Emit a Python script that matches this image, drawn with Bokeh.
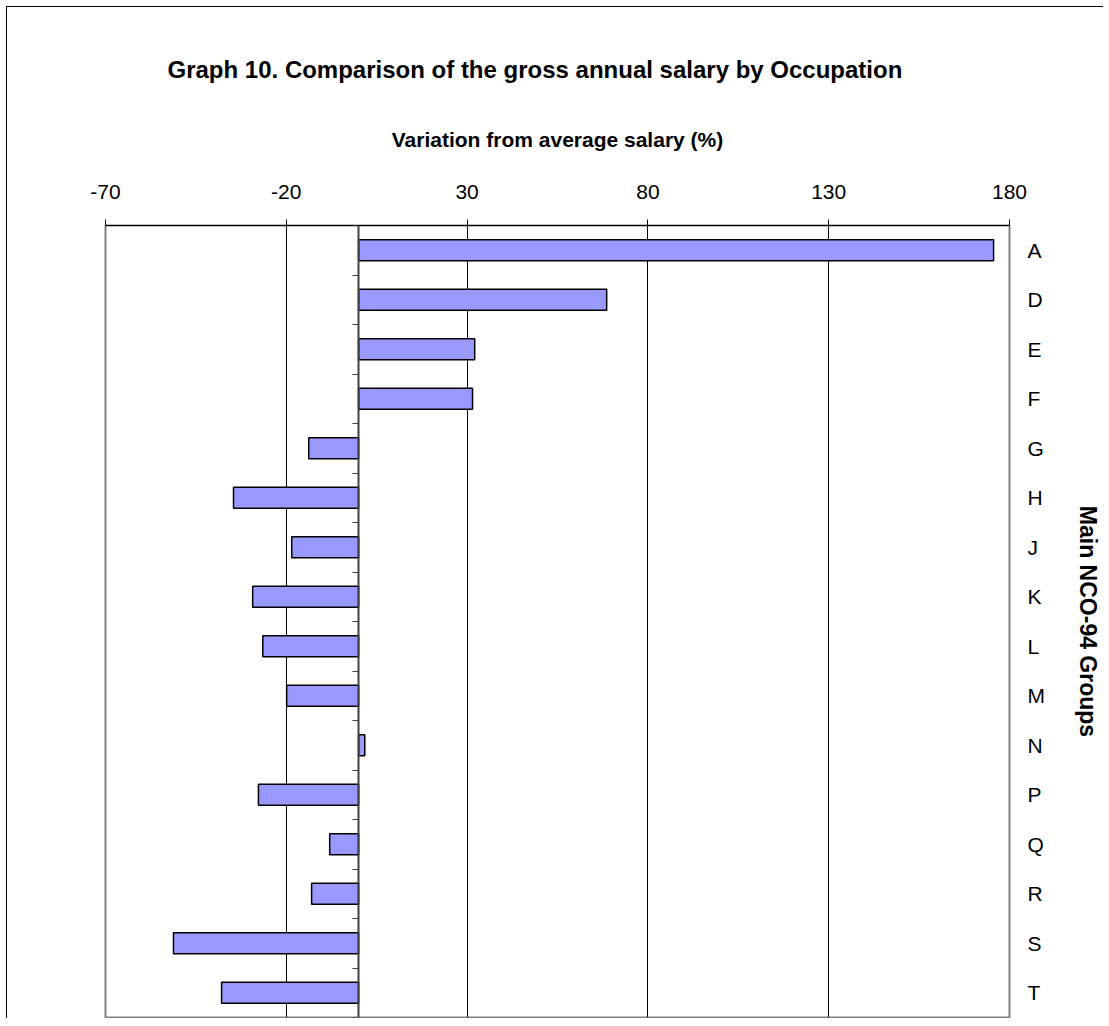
from bokeh.plotting import figure
from bokeh.models import (Range1d, LinearAxis, FixedTicker, ColumnDataSource)
from bokeh.embed import file_html
from bokeh.resources import INLINE

groups = ["A", "D", "E", "F", "G", "H", "J", "K", "L", "M", "N", "P", "Q", "R", "S", "T"]
variation = [175.6, 68.6, 32.1, 31.5, -13.8, -34.6, -18.5, -29.3, -26.5, -19.9,
             1.7, -27.7, -8.0, -13.0, -51.2, -37.9]
x_ticks = [-70, -20, 30, 80, 130, 180]

FONT = "Liberation Sans"

n = len(groups)
slot = [i + 0.5 for i in range(n)]          # centre of each category band
bounds = list(range(n + 1))                 # band boundaries

src = ColumnDataSource(dict(y=slot, value=variation, group=groups))

p = figure(
    frame_width=904, frame_height=792,
    x_range=Range1d(x_ticks[0], x_ticks[-1]),
    y_range=Range1d(n, 0),
    x_axis_location="above", y_axis_location="right",
    min_border_left=98, min_border_right=10, min_border_top=218, min_border_bottom=1,
    output_backend="svg", toolbar_location=None,
    title="Graph 10. Comparison of the gross annual salary by Occupation",
    styles={"border-left": "1px solid black", "border-top": "1px solid black",
            "margin-left": "6px", "margin-top": "6px"},
)
p.background_fill_color = "white"
p.border_fill_color = "white"
p.outline_line_color = "#808080"
p.outline_line_width = 2

# title
p.title.text_font = FONT
p.title.text_font_size = "24px"
p.title.text_font_style = "bold"
p.title.text_color = "black"
p.title.align = "left"
p.title.vertical_align = "top"
p.title.offset = 62
p.title.standoff = 80

# top x axis
xa = p.xaxis[0]
xa.ticker = FixedTicker(ticks=x_ticks)
xa.major_label_overrides = {t: str(t) for t in x_ticks}
xa.major_tick_out = 6
xa.major_tick_in = 0
xa.minor_tick_out = 0
xa.minor_tick_in = 0
xa.axis_line_color = "black"
xa.major_tick_line_color = "black"
xa.major_label_text_font = FONT
xa.major_label_text_font_size = "21px"
xa.major_label_text_color = "black"
xa.major_label_standoff = 21
xa.axis_label = "Variation from average salary (%)"
xa.axis_label_text_font = FONT
xa.axis_label_text_font_size = "21px"
xa.axis_label_text_font_style = "bold"
xa.axis_label_text_color = "black"
xa.axis_label_standoff = 31

# right category axis
ya = p.yaxis[0]
ya.ticker = FixedTicker(ticks=slot)
ya.major_label_overrides = {s: g for s, g in zip(slot, groups)}
ya.major_tick_out = 0
ya.major_tick_in = 0
ya.minor_tick_out = 0
ya.minor_tick_in = 0
ya.axis_line_color = None
ya.major_label_text_font = FONT
ya.major_label_text_font_size = "21px"
ya.major_label_text_color = "black"
ya.major_label_standoff = 18
ya.axis_label = "Main NCO-94 Groups"
ya.axis_label_text_font = FONT
ya.axis_label_text_font_size = "23px"
ya.axis_label_text_font_style = "bold"
ya.axis_label_text_color = "black"
ya.axis_label_standoff = 27

# grid
p.xgrid.ticker = FixedTicker(ticks=x_ticks[1:-1])
p.xgrid.grid_line_color = "black"
p.xgrid.grid_line_width = 1
p.ygrid.grid_line_color = None

# category boundary ticks on the zero line
zero_axis = LinearAxis(
    fixed_location=0,
    ticker=FixedTicker(ticks=bounds),
    major_label_overrides={b: "" for b in bounds},
    major_tick_out=6, major_tick_in=0, minor_tick_out=0, minor_tick_in=0,
    axis_line_color="#404040", axis_line_width=2, major_tick_line_color="#404040",
    major_label_standoff=0,
)
p.add_layout(zero_axis, "left")

p.hbar(y="y", left=0, right="value", height=0.42, source=src,
       fill_color="#9999FF", line_color="black", line_width=1.5)

open("out.html", "w").write(file_html(p, INLINE))
